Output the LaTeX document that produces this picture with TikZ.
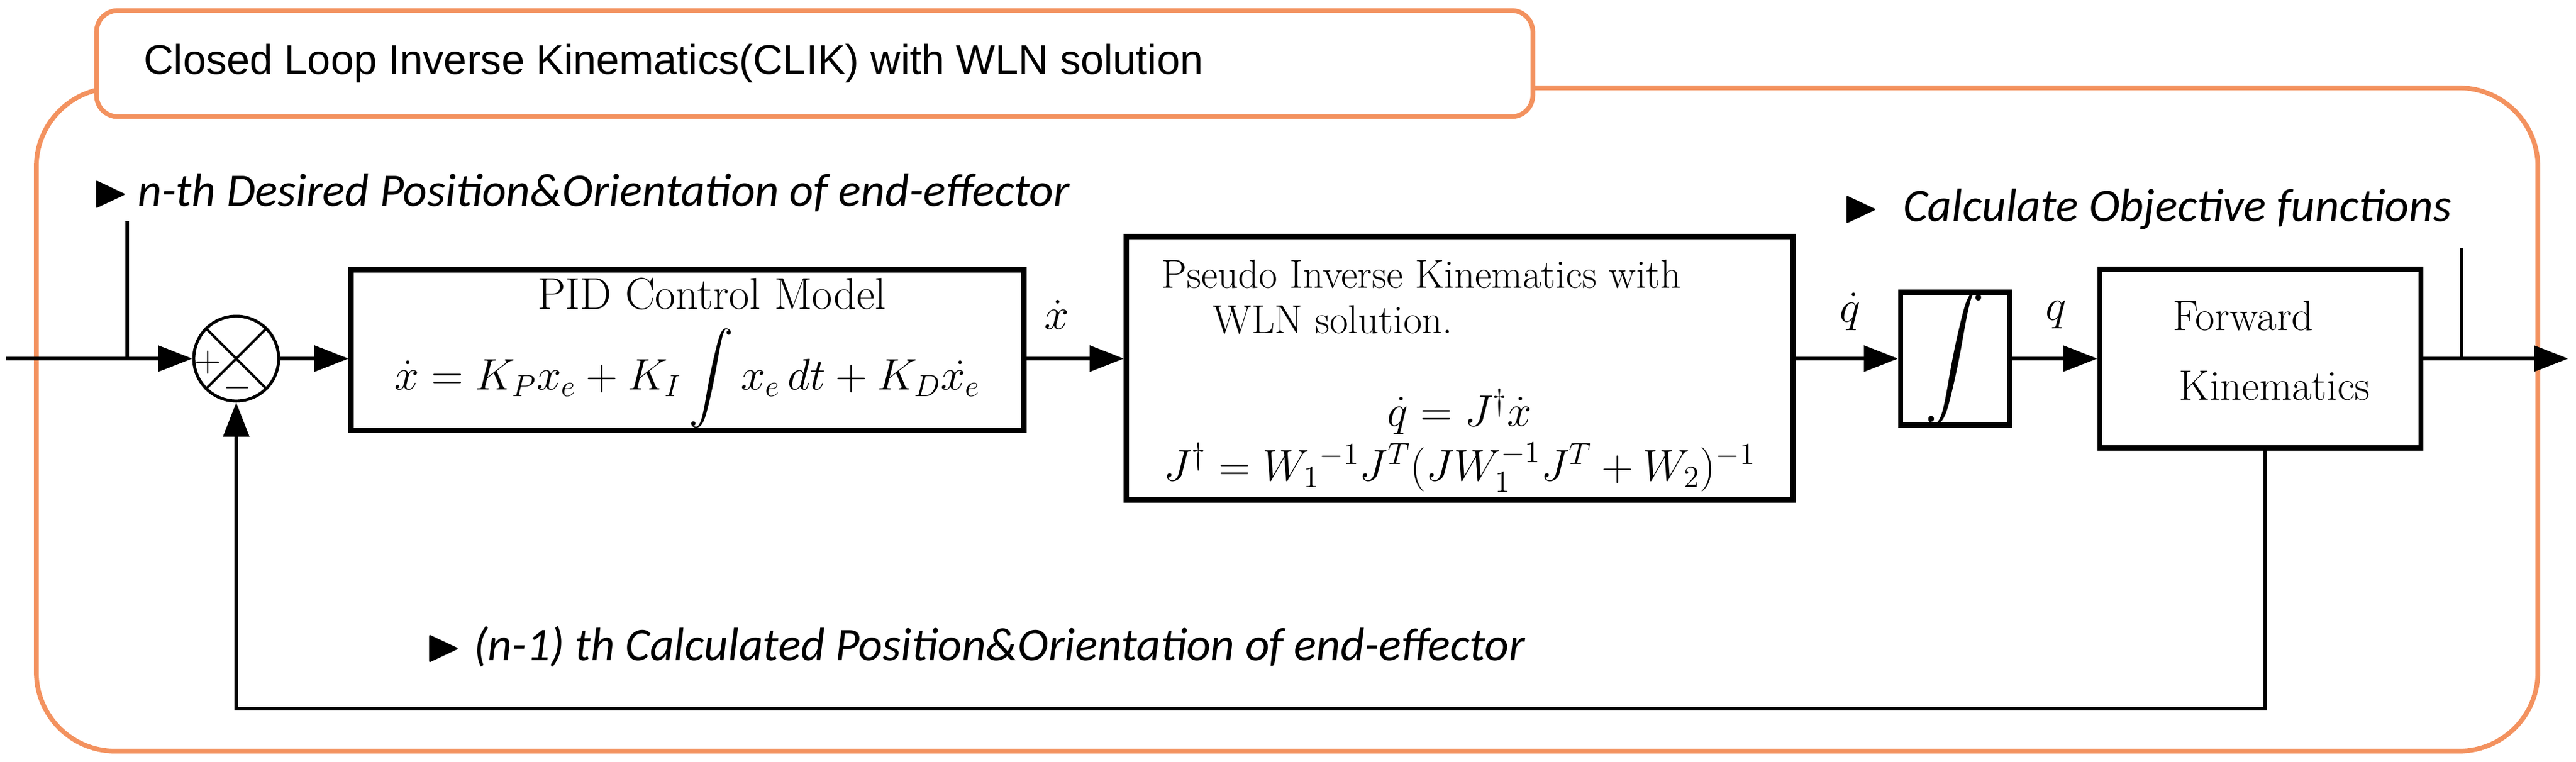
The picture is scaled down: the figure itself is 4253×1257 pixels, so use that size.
\documentclass[tikz,border=0pt]{standalone}
\usepackage{amsmath,amssymb}
\usepackage{fontspec}
\newfontfamily\sansf{Liberation Sans}
\newfontfamily\calib{Carlito}
\usetikzlibrary{arrows.meta}
\definecolor{org}{RGB}{243,146,95}
\begin{document}
\begin{tikzpicture}[x=0.01cm,y=-0.01cm,
  blk/.style={draw,line width=2.4pt,inner sep=0pt},
  wire/.style={line width=1.6pt},
  arr/.style={wire,-{Triangle[length=16pt,width=12pt]}},
  lab/.style={font=\fontsize{22}{26}\selectfont\calib\itshape,anchor=base west},
  bul/.style={font=\fontsize{22}{26}\selectfont,anchor=base west}]
\useasboundingbox (0,0) rectangle (4253,1257);
\draw[org,line width=2.2pt,rounded corners=1.3cm] (60,145) rectangle (4190,1240);
\node[draw=org,line width=2.2pt,fill=white,rounded corners=0.35cm,minimum width=23.7cm,minimum height=1.75cm] (title) at (1345,105) {};
\node[font=\fontsize{19.5}{22}\selectfont\sansf,anchor=west] at (225,105) {Closed Loop Inverse Kinematics(CLIK) with WLN solution};
% labels
\node[bul] (b1) at (140,340) {$\blacktriangleright$};
\node[lab] at (215,340) {n-th Desired Position\&Orientation of end-effector};
\node[bul] (b2) at (3030,365) {$\blacktriangleright$};
\node[lab] at (3130,365) {Calculate Objective functions};
\node[bul] (b3) at (690,1090) {$\blacktriangleright$};
\node[lab] at (770,1090) {(n-1) th Calculated Position\&Orientation of end-effector};
% blocks
\node[draw,circle,line width=1.4pt,minimum size=1.4cm,inner sep=0pt] (sum) at (390,592) {};
\draw[line width=1.2pt] (sum.north west)--(sum.south east) (sum.north east)--(sum.south west);
\node[font=\fontsize{18}{20}\selectfont] at (343,598) {$+$};
\node[font=\fontsize{18}{20}\selectfont] at (392,640) {$-$};
\node[blk,minimum width=11.1cm,minimum height=2.65cm] (pid) at (1135,578) {};
\node[font=\fontsize{21}{24}\selectfont] at (1175,485) {PID Control Model};
\node[font=\fontsize{21}{24}\selectfont] at (1135,625) {$\dot{x}=K_Px_e+K_I\displaystyle\int x_e\,dt+K_D\dot{x_e}$};
\node[blk,minimum width=11cm,minimum height=4.35cm] (pik) at (2410,608) {};
\node[font=\fontsize{19}{22}\selectfont,anchor=base west] at (1905,475) {Pseudo Inverse Kinematics with};
\node[font=\fontsize{19}{22}\selectfont,anchor=base west] at (1990,550) {WLN solution.};
\node[font=\fontsize{21}{24}\selectfont] at (2410,680) {$\dot{q}=J^{\dagger}\dot{x}$};
\node[font=\fontsize{21}{24}\selectfont] at (2410,772) {$J^{\dagger}=W_1{}^{-1}J^T(JW_1^{-1}J^T+W_2)^{-1}$};
\node[blk,minimum width=1.8cm,minimum height=2.0cm] (int) at (3228,592) {\fontsize{28}{28}\selectfont$\displaystyle\int$};
\node[blk,minimum width=5.3cm,minimum height=2.95cm] (fk) at (3732,592) {};
\node[font=\fontsize{20}{24}\selectfont,anchor=base west] at (3575,545) {Forward};
\node[font=\fontsize{20}{24}\selectfont,anchor=base west] at (3585,660) {Kinematics};
% signal labels
\node[font=\fontsize{21}{24}\selectfont] at (1745,520) {$\dot{x}$};
\node[font=\fontsize{21}{24}\selectfont] at (3055,515) {$\dot{q}$};
\node[font=\fontsize{21}{24}\selectfont] at (3395,520) {$q$};
% wires
\coordinate (in) at (10,592);
\coordinate (tapA) at (210,592);
\coordinate (tapAt) at (210,365);
\coordinate (out) at (4240,592);
\coordinate (tapB) at (4064,592);
\coordinate (tapBt) at (4064,410);
\coordinate (fb1) at (3740,1170);
\coordinate (fb2) at (390,1170);
\draw[arr] (in) -- (sum.west);
\draw[wire] (tapAt) -- (tapA);
\draw[arr] (sum.east) -- (sum.east -| pid.west);
\draw[arr] (pid.east |- sum) -- (pik.west |- sum);
\draw[arr] (pik.east |- sum) -- (int.west);
\draw[arr] (int.east) -- (fk.west);
\draw[arr] (fk.east) -- (out);
\draw[wire] (tapBt) -- (tapB);
\draw[arr] (fk.south -| fb1) -- (fb1) -- (fb2) -- (sum.south);
\end{tikzpicture}
\end{document}
